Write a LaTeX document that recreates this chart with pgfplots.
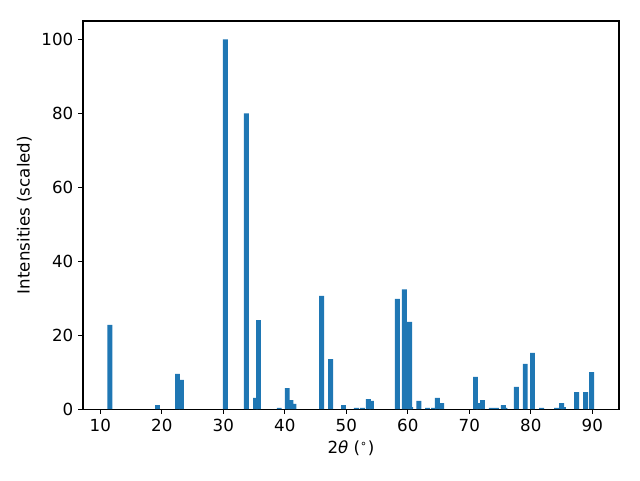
\documentclass[border=0pt]{standalone}
\usepackage{pgfplots}
\pgfplotsset{compat=1.18}
\usepackage{fontspec}
\setmainfont{DejaVu Sans}
\definecolor{mplblue}{HTML}{1F77B4}
\begin{document}
\begin{tikzpicture}
\begin{axis}[
  scale only axis,
  width=385.9pt, height=279.4pt,
  xmin=7.19, xmax=94.34,
  ymin=0, ymax=105,
  xtick={10,20,...,90},
  ytick={0,20,...,100},
  tick align=outside,
  xtick pos=bottom, ytick pos=left,
  major tick length=3.5pt,
  tick style={black, line width=0.8pt},
  axis line style={line width=0.8pt},
  tick label style={font=\fontsize{12}{14}\selectfont},
  label style={font=\fontsize{12}{14}\selectfont},
  /pgf/number format/assume math mode=true,
  xlabel={2\textit{θ} (\textsuperscript{∘})},
  ylabel={Intensities (scaled)},
]
% bars that sit partly under their neighbours
\addplot[ybar, bar width=0.8, bar shift=0pt, fill=mplblue, draw=none] coordinates {
(23.2,7.9)(35.25,3.0)(41.5,1.4)(41.0,2.4)(54.1,2.2)(60.45,0.5)
(64.2,0.3)(65.5,1.6)(71.5,1.6)(75.8,0.3)(85.3,0.5)
};
\addplot[ybar, bar width=0.8, bar shift=0pt, fill=mplblue, draw=none] coordinates {
(11.55,22.8)(19.3,1.1)(22.55,9.5)(30.35,100)(33.75,80)(35.72,24.1)
(39.1,0.3)(40.4,5.7)(46.0,30.6)(47.45,13.5)(49.55,1.1)(51.65,0.3)
(52.6,0.3)(53.6,2.7)(58.3,29.8)(59.45,32.4)(60.3,23.6)(61.8,2.2)
(63.2,0.3)(64.8,3.0)(71.0,8.7)(72.15,2.4)(73.6,0.3)(74.4,0.3)
(75.55,1.1)(77.65,6.0)(79.1,12.2)(80.27,15.2)(81.75,0.3)(84.2,0.3)
(85.0,1.6)(87.45,4.6)(88.9,4.6)(89.9,10.0)
};
\end{axis}
\path (current axis.south west) ++(-59.76pt,-51.12pt)
  rectangle ([shift={(15.12pt,15.12pt)}]current axis.north east);
\end{tikzpicture}
\end{document}
